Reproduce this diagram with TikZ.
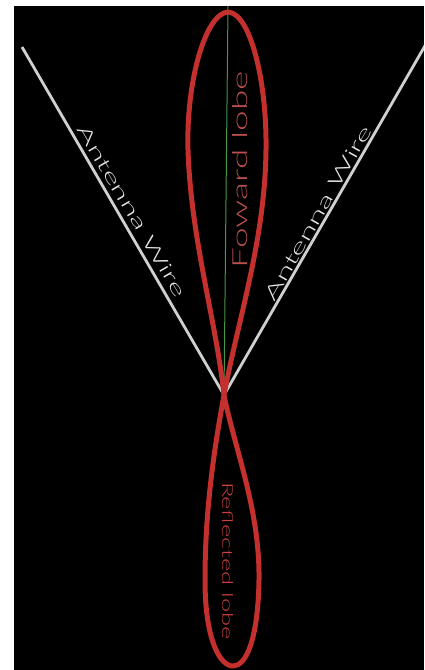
\documentclass[tikz,border=0pt]{standalone}
\usepackage{fontspec}
\IfFontExistsTF{Lato Light}
  {\newfontfamily\cadfont{Lato Light}}
  {\newfontfamily\cadfont{DejaVu Sans}}
\definecolor{lobered}{RGB}{196,48,46}
\definecolor{lobetext}{RGB}{190,80,80}
\definecolor{reftext}{RGB}{205,66,64}
\definecolor{wiregray}{RGB}{208,208,208}
\definecolor{wiretext}{RGB}{230,230,230}
\definecolor{axisgreen}{RGB}{70,150,70}
\tikzset{
  wire/.style={draw=wiregray, line width=2.8pt},
  lobe/.style={draw=lobered, line width=5pt, line join=round},
  axisline/.style={draw=axisgreen, line width=1pt},
  wirelabel/.style={text=wiretext, inner sep=0pt, font=\cadfont},
  lobelabel/.style={inner sep=0pt, font=\cadfont},
}
\begin{document}
\begin{tikzpicture}[x=1pt,y=-1pt]
\useasboundingbox (0,0) rectangle (424,670);
\fill[white] (0,0) rectangle (424,670);
\fill[black] (14,6) rectangle (424,670);
\begin{scope}
\clip (14,6) rectangle (424,670);
\coordinate (LT) at (22,47);
\coordinate (X) at (224,395);
\coordinate (RT) at (426,44);
\coordinate (GT) at (228,6);
\coordinate (FT) at (228,12);
\coordinate (RB) at (233,666);
\draw[axisline] (GT) -- (X);
\draw[wire] (LT) -- (X);
\draw[wire] (X) -- (RT);
% forward lobe
\draw[lobe] (X) .. controls (216,320) and (191,240) .. (188,150)
  .. controls (186,80) and (206,13) .. (FT)
  .. controls (250,13) and (267,80) .. (266,150)
  .. controls (265,240) and (238,320) .. (X);
% reflected lobe
\draw[lobe] (X) .. controls (235,450) and (260,510) .. (259,580)
  .. controls (258,640) and (246,666) .. (RB)
  .. controls (220,666) and (205,640) .. (205,580)
  .. controls (205,510) and (214,450) .. (X);
\node[wirelabel, rotate=-59.6] (lw) at (132,211) {\resizebox{196pt}{13pt}{Antenna Wire}};
\node[wirelabel, rotate=60.3] (rw) at (318,213) {\resizebox{198pt}{13pt}{Antenna Wire}};
\node[lobelabel, rotate=90, text=lobetext] (fl) at (240.5,169.5) {\resizebox{197pt}{15pt}{Foward lobe}};
\node[lobelabel, rotate=-90, text=reftext] (rl) at (227.5,561) {\resizebox{158pt}{11pt}{Reflected lobe}};
\end{scope}
\end{tikzpicture}
\end{document}
